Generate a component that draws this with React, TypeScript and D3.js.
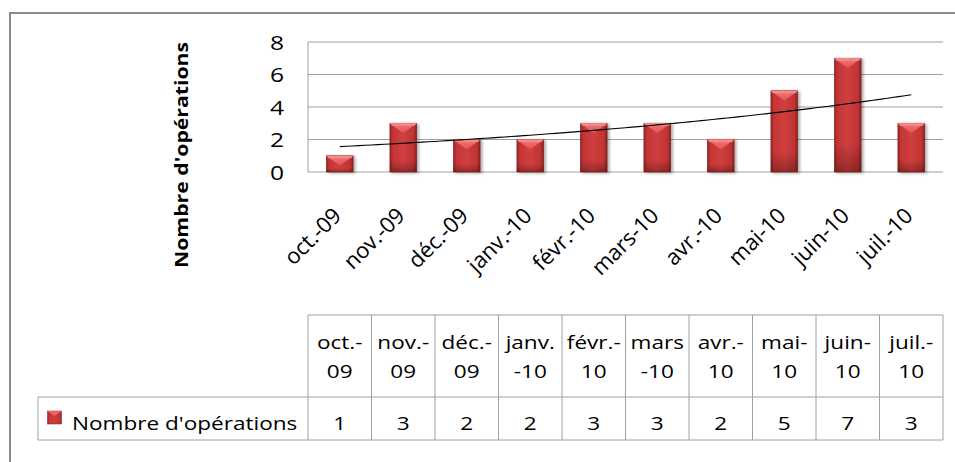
import React from "react";
import * as d3 from "d3";

const categories = ["oct.-09", "nov.-09", "déc.-09", "janv.-10", "févr.-10", "mars-10", "avr.-10", "mai-10", "juin-10", "juil.-10"];
const headerLines = [["oct.-", "09"], ["nov.-", "09"], ["déc.-", "09"], ["janv.", "-10"], ["févr.-", "10"], ["mars", "-10"], ["avr.-", "10"], ["mai-", "10"], ["juin-", "10"], ["juil.-", "10"]];
const values = [1, 3, 2, 2, 3, 3, 2, 5, 7, 3];
const yTicks = [0, 2, 4, 6, 8];
const seriesName = "Nombre d'opérations";
const yTitle = "Nombre d'opérations";

const W = 955, H = 462;
const X0 = 308, X1 = 943, Y0 = 172, Y8 = 42;
const FONT = "'Open Sans', sans-serif";
const SX = 1.2;

function SText({ x, y, size, anchor = "middle", children, sx = SX, weight = 500 }: any) {
  return (
    <text transform={`translate(${x},${y}) scale(${sx},1)`} textAnchor={anchor}
      fontFamily={FONT} fontSize={size} fontWeight={weight} fill="#000">{children}</text>
  );
}

export default function App() {
  const x = d3.scaleBand<string>().domain(categories).range([X0, X1]).paddingInner(0).paddingOuter(0);
  const y = d3.scaleLinear().domain([0, 8]).range([Y0, Y8]);
  const step = x.step();
  const bw = step * 0.42;

  // exponential trendline fit (Excel-style)
  const n = values.length;
  const xs = values.map((_, i) => i + 1);
  const ly = values.map(v => Math.log(v));
  const mx = d3.mean(xs)!, my = d3.mean(ly)!;
  const b = d3.sum(xs.map((xi, i) => (xi - mx) * (ly[i] - my))) / d3.sum(xs.map(xi => (xi - mx) ** 2));
  const a = my - b * mx;
  const tPts: [number, number][] = d3.range(0, 91).map(k => {
    const t = 1 + (k / 90) * (n - 1);
    const px = x(categories[0])! + step / 2 + (t - 1) * step;
    return [px, y(Math.exp(a + b * t))];
  });
  const line = d3.line();

  const tableTop = 315, headBot = 397, tableBot = 440, legendLeft = 38;

  return (
    <svg width={W} height={H} style={{ position: "absolute", left: 0, top: 0, background: "#fff" }}>
      <defs>
        <linearGradient id="barH" x1="0" x2="1" y1="0" y2="0">
          <stop offset="0" stopColor="#9c2424" />
          <stop offset="0.12" stopColor="#c43636" />
          <stop offset="0.5" stopColor="#d03e3e" />
          <stop offset="0.88" stopColor="#c03434" />
          <stop offset="1" stopColor="#8e2020" />
        </linearGradient>
        <linearGradient id="barV" x1="0" x2="0" y1="0" y2="1">
          <stop offset="0" stopColor="#000" stopOpacity="0" />
          <stop offset="0.75" stopColor="#000" stopOpacity="0" />
          <stop offset="1" stopColor="#000" stopOpacity="0.28" />
        </linearGradient>
        <linearGradient id="bevel" x1="0" x2="0" y1="0" y2="1">
          <stop offset="0" stopColor="#f27a7a" />
          <stop offset="1" stopColor="#e05252" />
        </linearGradient>
        <filter id="sh" x="-20%" y="-20%" width="150%" height="150%">
          <feGaussianBlur in="SourceAlpha" stdDeviation="1.5" />
          <feOffset dx="2" dy="1" result="o" />
          <feComponentTransfer><feFuncA type="linear" slope="0.35" /></feComponentTransfer>
          <feMerge><feMergeNode /><feMergeNode in="SourceGraphic" /></feMerge>
        </filter>
      </defs>
      <rect x={0} y={0} width={W} height={H} fill="#fff" />
      <rect x={10} y={13} width={1200} height={1000} fill="none" stroke="#8a8a8a" strokeWidth={2} />

      {/* gridlines */}
      {yTicks.map(t => (
        <line key={t} x1={X0} x2={X1} y1={y(t)} y2={y(t)} stroke="#a0a0a0" strokeWidth={1} />
      ))}
      <line x1={X0} x2={X0} y1={Y8} y2={Y0} stroke="#a0a0a0" strokeWidth={1} />

      {/* y tick labels */}
      {yTicks.map(t => (
        <SText key={t} x={284} y={y(t) + 7.5} size={20.5} anchor="end">{t}</SText>
      ))}

      {/* y title */}
      <text transform={`translate(188,155) rotate(-90)`} textAnchor="middle" fontFamily={FONT}
        fontWeight={700} fontSize={18} textLength={226} lengthAdjust="spacingAndGlyphs">{yTitle}</text>

      {/* bars */}
      {values.map((v, i) => {
        const cx = x(categories[i])! + step / 2;
        const bx = cx - bw / 2, by = y(v), bh = Y0 - y(v);
        const bev = 7;
        return (
          <g key={i} filter="url(#sh)">
            <rect x={bx} y={by} width={bw} height={bh} fill="url(#barH)" stroke="#7a1a1a" strokeWidth={0.6} />
            <rect x={bx} y={by} width={bw} height={bh} fill="url(#barV)" />
            <polygon points={`${bx},${by} ${bx + bw},${by} ${cx},${by + bev + 3}`} fill="url(#bevel)" />
            <polygon points={`${bx},${by} ${bx + bw},${by} ${bx + bw - 2},${by + 2.5} ${bx + 2},${by + 2.5}`} fill="#f48a8a" />
          </g>
        );
      })}

      {/* trendline */}
      <path d={line(tPts)!} fill="none" stroke="#000" strokeWidth={1.1} />

      {/* category labels */}
      {categories.map((c, i) => {
        const cx = x(c)! + step / 2;
        return (
          <text key={c} transform={`translate(${cx + 3},217) rotate(-45)`} textAnchor="end"
            fontFamily={FONT} fontWeight={500} fontSize={22} fill="#000">{c}</text>
        );
      })}

      {/* data table */}
      <g stroke="#a0a0a0" strokeWidth={1} fill="none">
        <line x1={X0} x2={X1} y1={tableTop} y2={tableTop} />
        <line x1={legendLeft} x2={X1} y1={headBot} y2={headBot} />
        <line x1={legendLeft} x2={X1} y1={tableBot} y2={tableBot} />
        <line x1={legendLeft} x2={legendLeft} y1={headBot} y2={tableBot} />
        {d3.range(0, categories.length + 1).map(k => (
          <line key={k} x1={X0 + k * step} x2={X0 + k * step} y1={tableTop} y2={tableBot} />
        ))}
      </g>
      {categories.map((c, i) => {
        const cx = x(c)! + step / 2;
        return (
          <g key={c}>
            <SText x={cx} y={349} size={18.8}>{headerLines[i][0]}</SText>
            <SText x={cx} y={378} size={18.8}>{headerLines[i][1]}</SText>
            <SText x={cx} y={430} size={18.8}>{values[i]}</SText>
          </g>
        );
      })}
      <rect x={47.5} y={411} width={14} height={13} fill="url(#barH)" stroke="#8a1e1e" strokeWidth={0.5} />
      <polygon points={`47.5,411 61.5,411 54.5,416`} fill="#ea6262" />
      <SText x={72} y={430} size={18.8} anchor="start" sx={1.2}>{seriesName}</SText>
    </svg>
  );
}
